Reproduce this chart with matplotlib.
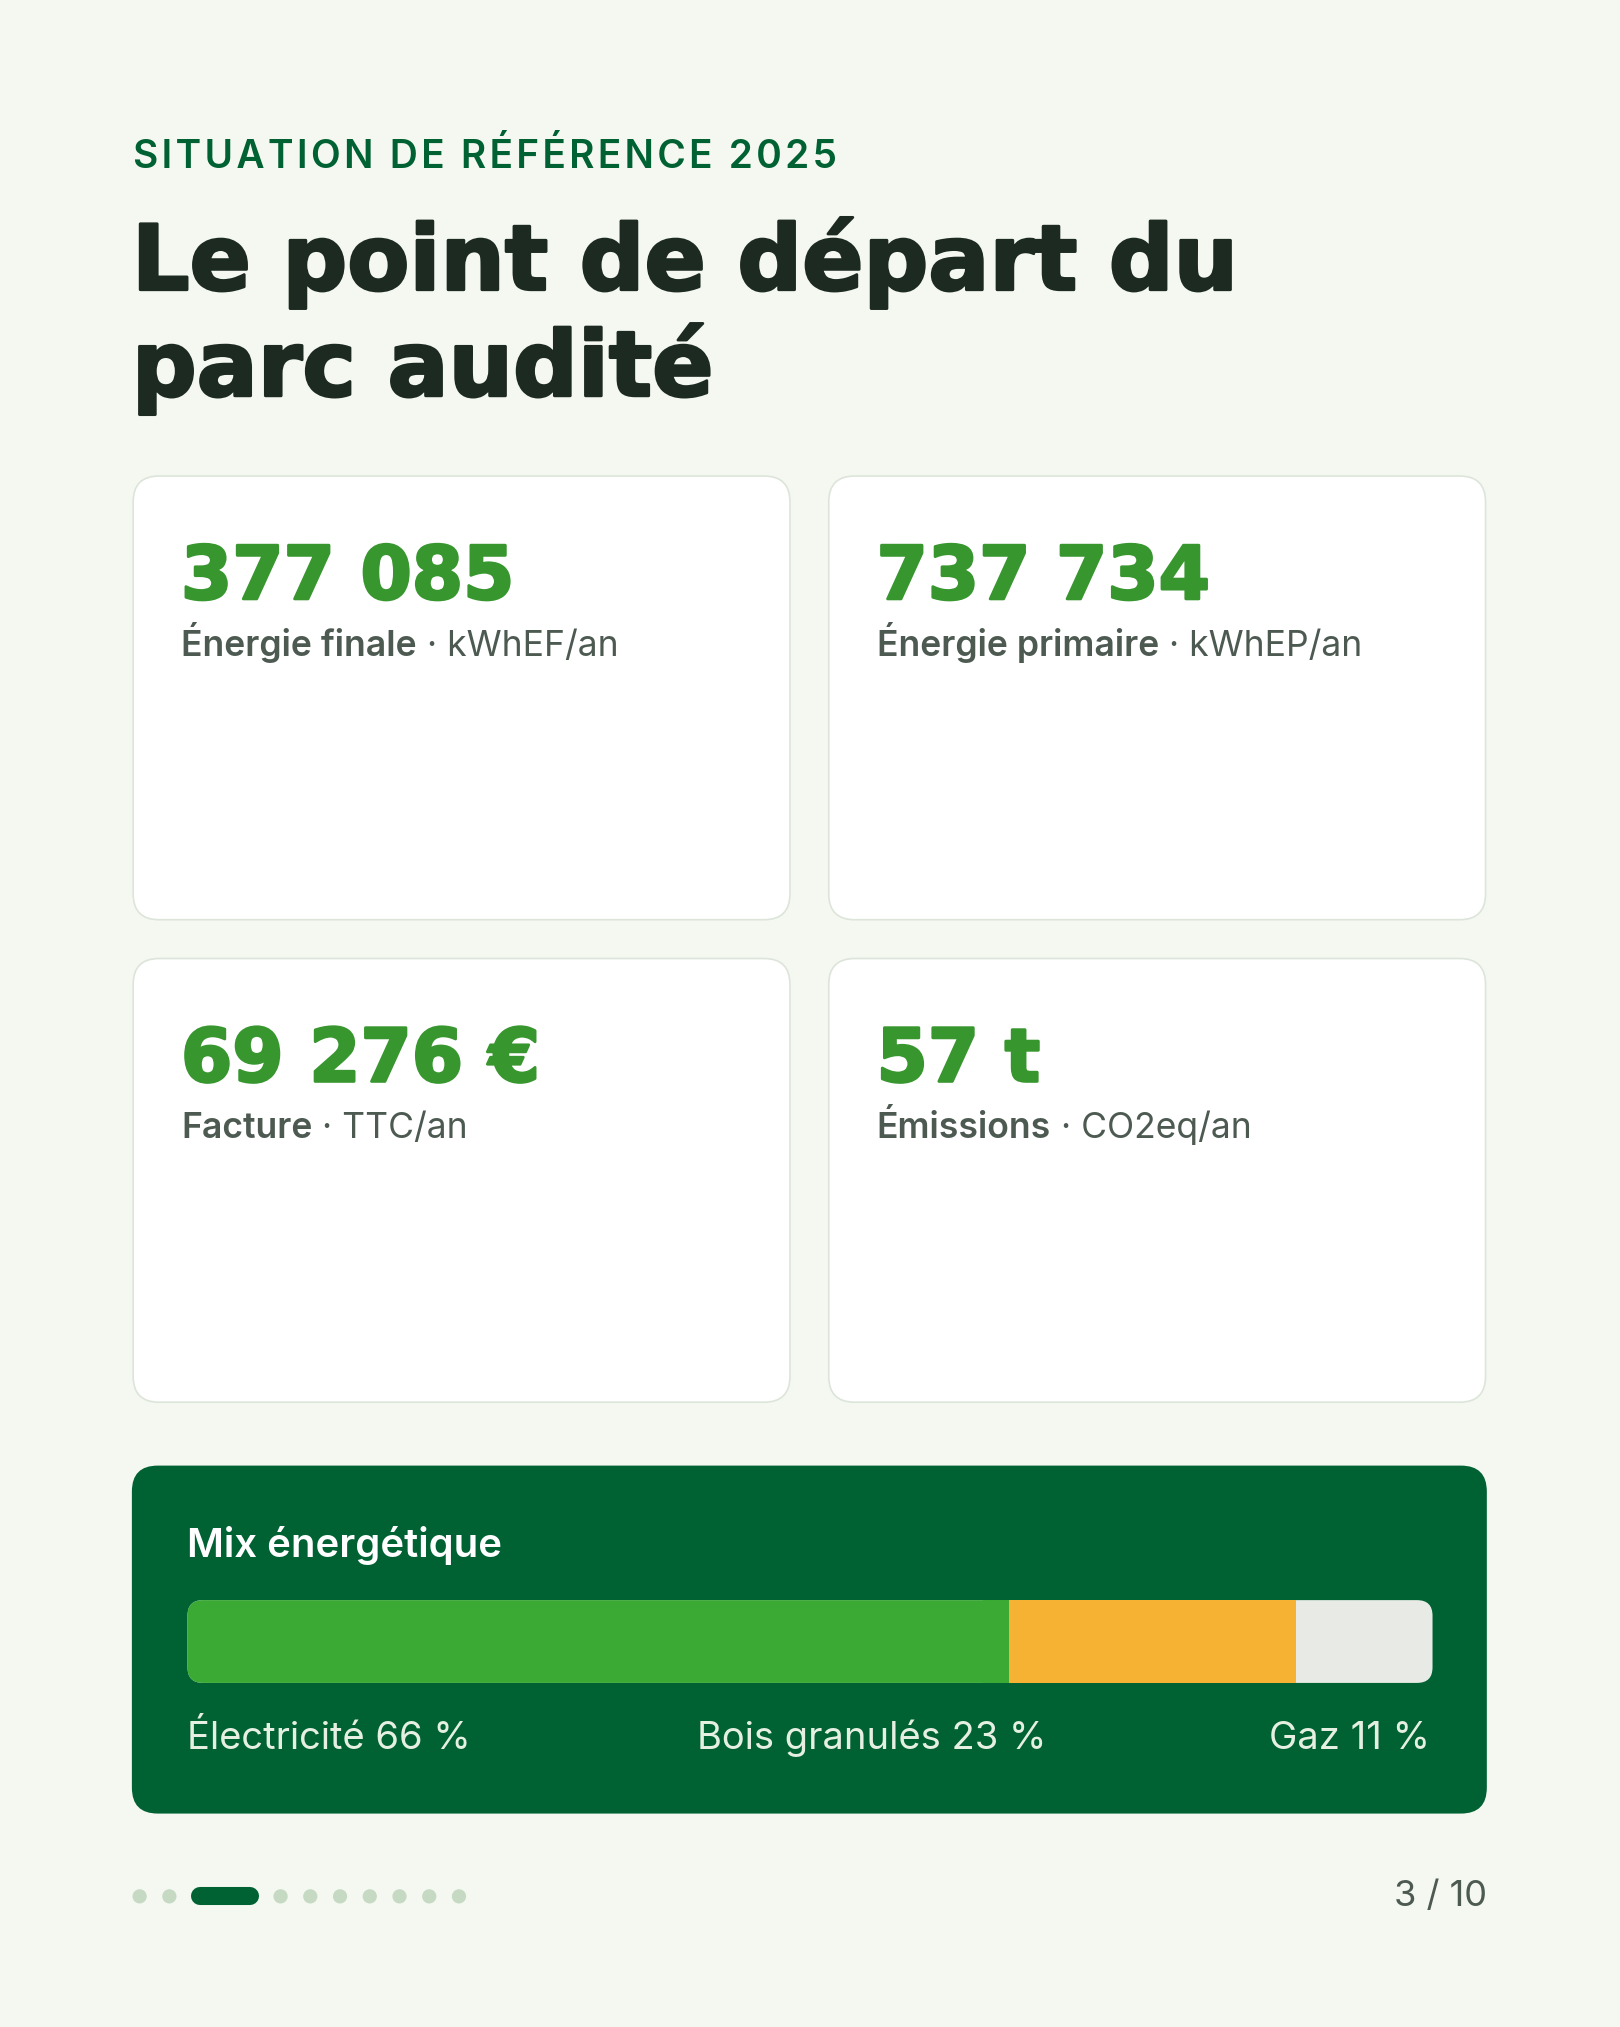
import matplotlib
matplotlib.use("Agg")
import matplotlib.pyplot as plt
from matplotlib.patches import FancyBboxPatch, Rectangle, Circle
import matplotlib.patheffects as pe

kpi_values = ["377 085", "737 734", "69 276 €", "57 t"]
kpi_labels = ["Énergie finale", "Énergie primaire", "Facture", "Émissions"]
kpi_units = ["kWhEF/an", "kWhEP/an", "TTC/an", "CO2eq/an"]
mix_names = ["Électricité", "Bois granulés", "Gaz"]
mix_pct = [66, 23, 11]
mix_colors = ["#3aaa35", "#f5b233", "#e8ebe5"]

W, H = 1253, 1567
fig = plt.figure(figsize=(16.2, 20.27), dpi=100)
fig.patch.set_facecolor("#f4f8f1")
ax = fig.add_axes([0, 0, 1, 1])
ax.set_xlim(0, W); ax.set_ylim(H, 0); ax.axis("off")
s = 0.931  # pt per ref px

header = "SITUATION DE RÉFÉRENCE 2025"
ax.text(103, 121, "\u200a".join(header), color="#006133", fontsize=30*s,
        fontfamily=["Inter", "DejaVu Sans"], fontweight="semibold", va="center")
for i, line in enumerate(["Le point de départ du", "parc audité"]):
    ax.text(102, 224 + i*82, line, color="#1c2a22", fontsize=70*s, fontfamily="DejaVu Sans",
            fontweight="bold", va="baseline",
            path_effects=[pe.withStroke(linewidth=2, foreground="#1c2a22")])

pos = [(103, 368), (641, 368), (103, 741), (641, 741)]
for (x, y), v, l, u in zip(pos, kpi_values, kpi_labels, kpi_units):
    ax.add_patch(FancyBboxPatch((x, y), 508, 343, boxstyle="round,pad=0,rounding_size=20",
                                facecolor="white", edgecolor="#dde5da", lw=1.2))
    ax.text(x + 37, y + 95, v, color="#37962e", fontsize=57*s, fontfamily="DejaVu Sans",
            fontweight="bold", va="baseline",
            path_effects=[pe.withStroke(linewidth=2, foreground="#37962e")])
    t = ax.text(x + 37, y + 139, l, color="#4d5a52", fontsize=27.5*s, fontfamily="Inter",
                fontweight="semibold", va="baseline")
    ax.annotate(" · " + u, xycoords=t, xy=(1, 0), va="bottom", color="#4d5a52",
                fontsize=27.5*s, fontfamily="Inter")

ax.add_patch(FancyBboxPatch((102, 1133), 1048, 269, boxstyle="round,pad=0,rounding_size=20",
                            facecolor="#006133", edgecolor="none"))
ax.text(145, 1195, "Mix énergétique", color="white", fontsize=31*s, fontfamily="Inter",
        fontweight="semibold", va="center")
bx, bw, by, bh = 145, 963, 1237, 64
ax.add_patch(FancyBboxPatch((bx, by), bw, bh, boxstyle="round,pad=0,rounding_size=12",
                            facecolor=mix_colors[-1], edgecolor="none"))
cur = bx
tot = sum(mix_pct)
for i, (p, c) in enumerate(zip(mix_pct, mix_colors)):
    w = bw * p / tot
    if i == 0:
        ax.add_patch(FancyBboxPatch((cur, by), w, bh, boxstyle="round,pad=0,rounding_size=12",
                                    facecolor=c, edgecolor="none"))
        ax.add_patch(Rectangle((cur + w - 20, by), 20, bh, facecolor=c, edgecolor="none"))
    elif i < len(mix_pct) - 1:
        ax.add_patch(Rectangle((cur, by), w, bh, facecolor=c, edgecolor="none"))
    cur += w
has = ["left", "center", "right"]
xs = [145, 674, 1106]
for n, p, ha, x in zip(mix_names, mix_pct, has, xs):
    ax.text(x, 1344, f"{n} {p} %", color="#e6f0e2", fontsize=29.5*s, fontfamily="Inter",
            ha=ha, va="center")

dots = [108, 131, None, 217, 240, 263, 286, 309, 332, 355]
for dx in dots:
    if dx is None:
        ax.plot([155, 193], [1466, 1466], color="#006133", lw=13, solid_capstyle="round")
    else:
        ax.add_patch(Circle((dx, 1466), 5.5, facecolor="#c5d9c3", edgecolor="none"))
ax.text(1150, 1466, "3 / 10", color="#4d5a52", fontsize=28*s, fontfamily="Inter",
        ha="right", va="center")

fig.savefig("out.png", dpi=100, facecolor=fig.get_facecolor())
